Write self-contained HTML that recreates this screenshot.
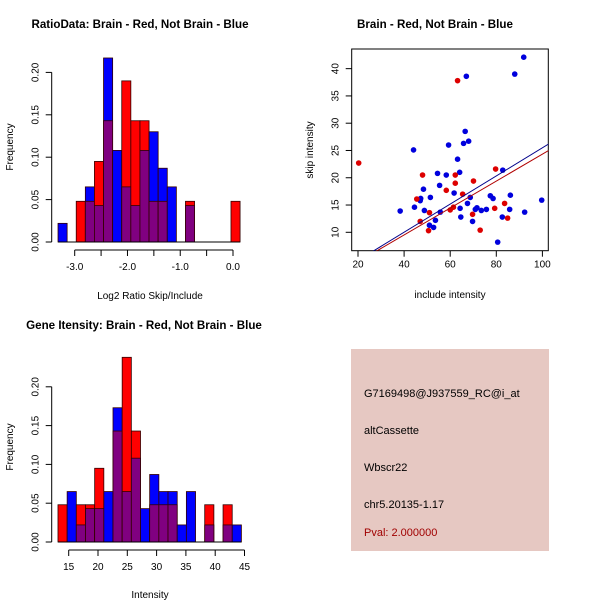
<!DOCTYPE html>
<html><head><meta charset="utf-8"><style>
body{margin:0;background:#fff}
svg{display:block;font-family:"Liberation Sans",sans-serif}
</style></head><body>
<svg id="c" width="600" height="600" xmlns="http://www.w3.org/2000/svg">
<rect width="600" height="600" fill="#fff"/>
<text x="140" y="28" text-anchor="middle" font-weight="bold" font-size="11.6">RatioData: Brain - Red, Not Brain - Blue</text>
<text x="435" y="28" text-anchor="middle" font-weight="bold" font-size="11.6">Brain - Red, Not Brain - Blue</text>
<text x="144" y="329" text-anchor="middle" font-weight="bold" font-size="11.6">Gene Itensity: Brain - Red, Not Brain - Blue</text>
<text x="150" y="299" text-anchor="middle" font-size="10">Log2 Ratio Skip/Include</text>
<text transform="translate(13,147) rotate(-90)" text-anchor="middle" font-size="10">Frequency</text>
<text x="450" y="298" text-anchor="middle" font-size="10">include intensity</text>
<text transform="translate(313,150) rotate(-90)" text-anchor="middle" font-size="10">skip intensity</text>
<text x="150" y="598" text-anchor="middle" font-size="10">Intensity</text>
<text transform="translate(13,447) rotate(-90)" text-anchor="middle" font-size="10">Frequency</text>
<g id="h1"></g>
<g id="h2"></g>
<g id="sc"></g>
<g>
<rect x="351" y="349" width="198" height="202" fill="#E6C8C2"/>
<text x="364" y="397" font-size="11">G7169498@J937559_RC@i_at</text>
<text x="364" y="434" font-size="11">altCassette</text>
<text x="364" y="471" font-size="11">Wbscr22</text>
<text x="364" y="508" font-size="11">chr5.20135-1.17</text>
<text x="364" y="536" font-size="11" fill="#A00000">Pval: 2.000000</text>
</g>
</svg>
<script>
// Ratio histogram data
const ratioBinStart = -3.316;
const ratioBinWidth = 0.1725;
const ratioBlue = [0.022,0,0,0.065,0.043,0.217,0.108,0.065,0.043,0.108,0.13,0.087,0.065,0,0.043,0,0,0,0,0];
const ratioRed  = [0,0,0.048,0.048,0.095,0.143,0,0.19,0.143,0.143,0.048,0.048,0,0,0.048,0,0,0,0,0.048];
const ratioXTicks = [-3.0,-2.5,-2.0,-1.5,-1.0,-0.5,0.0];
const ratioXLabels = ["-3.0","","-2.0","","-1.0","","0.0"];
const freqTicks = [0,0.05,0.10,0.15,0.20];
const freqLabels = ["0.00","0.05","0.10","0.15","0.20"];
// Intensity histogram data
const intBinStart = 13.17;
const intBinWidth = 1.565;
const intBlue = [0,0.065,0.022,0.043,0.043,0.065,0.173,0.065,0.108,0.043,0.087,0.065,0.065,0.022,0.065,0,0.022,0,0.022,0.022];
const intRed  = [0.048,0,0.048,0.048,0.095,0,0.143,0.238,0.143,0,0.048,0.048,0.048,0,0,0,0.048,0,0.048,0];
const intXTicks = [15,20,25,30,35,40,45];
// Scatter data
const blueX = [38.3,44.1,44.5,47.0,47.2,48.4,48.8,51.0,51.4,52.8,53.6,54.5,55.4,55.7,58.3,59.3,61.7,63.2,64.1,64.3,64.6,65.8,66.5,67.0,67.5,68.0,68.7,69.7,70.9,71.6,73.5,75.7,77.4,78.6,80.6,82.6,82.8,85.8,86.1,88.0,91.9,92.3,99.7];
const blueY = [13.9,25.1,14.6,15.8,16.2,17.9,14.0,11.3,16.4,10.9,12.2,20.8,18.6,13.7,20.5,26.0,17.2,23.4,21.0,14.4,12.8,26.3,28.5,38.6,15.3,26.7,16.4,12.0,14.2,14.5,14.0,14.2,16.7,16.2,8.2,12.8,21.4,14.2,16.8,39.0,42.1,13.7,15.9];
const redX = [20.3,45.5,47.0,48.0,50.6,51.0,58.3,60.0,61.4,62.2,62.2,63.2,65.4,69.7,70.1,73.0,79.3,79.7,83.6,84.9];
const redY = [22.7,16.1,12.0,20.5,10.3,13.6,17.7,14.1,14.6,20.5,19.0,37.8,17.0,13.3,19.4,10.4,14.4,21.6,15.3,12.6];
const fitSlope = [0.258,0.247];
const fitIntercept = [-0.31,-0.37];
const scXTicks = [20,40,60,80,100];
const scYTicks = [10,15,20,25,30,35,40];

const NS = "http://www.w3.org/2000/svg";
function mk(tag, attrs, parent){const e=document.createElementNS(NS,tag);for(const k in attrs)e.setAttribute(k,attrs[k]);parent.appendChild(e);return e;}

function hist(g, binStart, binW, blue, red, x0px, x0val, pxPerUnit, yBase, pxPerFreq, xTicks, xLabels, axisLeft, axisTopVal, name){
  const X=v=>x0px+(v-x0val)*pxPerUnit, Y=f=>yBase-f*pxPerFreq;
  for(let i=0;i<blue.length;i++){
    const a=X(binStart+i*binW), b=X(binStart+(i+1)*binW);
    const hi=Math.max(blue[i],red[i]), lo=Math.min(blue[i],red[i]);
    if(hi<=0) continue;
    const col=blue[i]>=red[i]?"#0000FF":"#FF0000";
    const r=mk("rect",{"x":a,"y":Y(hi),"width":b-a,"height":Y(0)-Y(hi),"fill":col,"stroke":"#300","stroke-width":0.8},g);
    
    
    if(lo>0){
      const p=mk("rect",{"x":a,"y":Y(lo),"width":b-a,"height":Y(0)-Y(lo),"fill":"#800080","stroke":"#300","stroke-width":0.8},g);
      
      
    }
  }
  mk("line",{"x1":X(binStart),"x2":X(binStart+blue.length*binW),"y1":yBase,"y2":yBase,"stroke":"#000"},g);
  mk("line",{"x1":axisLeft,"x2":axisLeft,"y1":Y(0),"y2":Y(axisTopVal),"stroke":"#000"},g);
  freqTicks.forEach((t,i)=>{
    if(t>axisTopVal+1e-9) return;
    mk("line",{"x1":axisLeft-6,"x2":axisLeft,"y1":Y(t),"y2":Y(t),"stroke":"#000"},g);
    const tx=mk("text",{"transform":"translate("+(axisLeft-13)+","+Y(t)+") rotate(-90)","text-anchor":"middle","font-size":10},g);
    tx.textContent=freqLabels[i];
    
    
  });
  const ya=yBase+8;
  mk("line",{"x1":X(xTicks[0]),"x2":X(xTicks[xTicks.length-1]),"y1":ya,"y2":ya,"stroke":"#000"},g);
  xTicks.forEach((t,i)=>{
    mk("line",{"x1":X(t),"x2":X(t),"y1":ya,"y2":ya+6,"stroke":"#000"},g);
    const tx=mk("text",{"x":X(t),"y":ya+20,"text-anchor":"middle","font-size":10},g);
    tx.textContent=xLabels[i];
    
    
  });
}
hist(document.getElementById("h1"),ratioBinStart,ratioBinWidth,ratioBlue,ratioRed,74.7,-3.0,52.77,242,848,ratioXTicks,ratioXLabels,51.7,0.20,"ratio");
hist(document.getElementById("h2"),intBinStart,intBinWidth,intBlue,intRed,68.7,15,5.86,542,776,intXTicks,intXTicks.map(String),51.7,0.20,"intensity");

(function(){
  const g=document.getElementById("sc");
  const L=351.7,R=548.3,T=49,B=250.7;
  const X=v=>358+(v-20)*2.305, Y=v=>232.3-(v-10)*5.455;
  const cp=mk("clipPath",{"id":"clipsc"},g); mk("rect",{"x":L,"y":T,"width":R-L,"height":B-T},cp);
  const box=mk("rect",{"x":L,"y":T,"width":R-L,"height":B-T,"fill":"none","stroke":"#000"},g);
  
  
  scXTicks.forEach(t=>{
    mk("line",{"x1":X(t),"x2":X(t),"y1":B,"y2":B+6,"stroke":"#000"},g);
    const tx=mk("text",{"x":X(t),"y":B+17,"text-anchor":"middle","font-size":10},g);tx.textContent=t;
    
    
  });
  scYTicks.forEach(t=>{
    mk("line",{"x1":L-6,"x2":L,"y1":Y(t),"y2":Y(t),"stroke":"#000"},g);
    const tx=mk("text",{"transform":"translate("+(L-13)+","+Y(t)+") rotate(-90)","text-anchor":"middle","font-size":10},g);tx.textContent=t;
    
    
  });
  const pts=mk("g",{"clip-path":"url(#clipsc)"},g);
  blueX.forEach((x,i)=>{const c=mk("circle",{"cx":X(x),"cy":Y(blueY[i]),"r":2.8,"fill":"#0000DD"},pts);
    
    });
  redX.forEach((x,i)=>{const c=mk("circle",{"cx":X(x),"cy":Y(redY[i]),"r":2.8,"fill":"#DD0000"},pts);
    
    });
  const cols=["#00008B","#B00000"];const nm=["not-brain-fit-line","brain-fit-line"];
  fitSlope.forEach((s,i)=>{
    const x1=0,x2=110;
    const l=mk("line",{"x1":X(x1),"y1":Y(fitIntercept[i]+s*x1),"x2":X(x2),"y2":Y(fitIntercept[i]+s*x2),"stroke":cols[i],"stroke-width":1},pts);
    
    
  });
})();
</script>
</body></html>
